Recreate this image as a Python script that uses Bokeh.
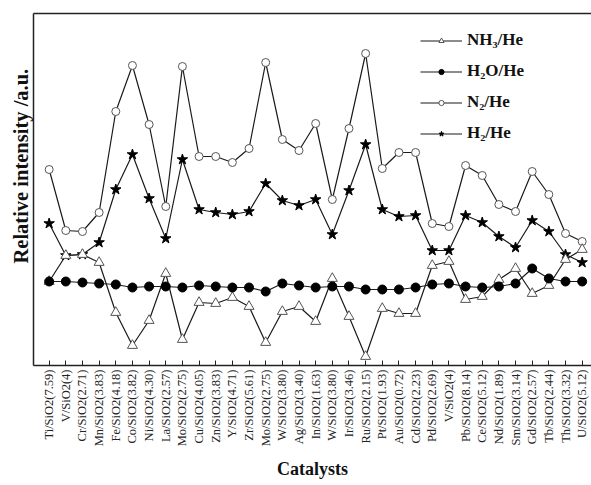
import math
from bokeh.plotting import figure
from bokeh.models import (Range1d, FixedTicker, LinearAxis, Legend, LegendItem, Title)
from bokeh.embed import file_html
from bokeh.resources import INLINE

catalysts = ["Ti/SiO2(7.59)", "V/SiO2(4)", "Cr/SiO2(2.71)", "Mn/SiO2(3.83)", "Fe/SiO2(4.18)",
             "Co/SiO2(3.82)", "Ni/SiO2(4.30)", "La/SiO2(2.57)", "Mo/SiO2(2.75)", "Cu/SiO2(4.05)",
             "Zn/SiO2(3.83)", "Y/SiO2(4.71)", "Zr/SiO2(5.61)", "Mo/SiO2(2.75)", "W/SiO2(3.80)",
             "Ag/SiO2(3.40)", "In/SiO2(1.63)", "W/SiO2(3.80)", "Ir/SiO2(3.46)", "Ru/SiO2(2.15)",
             "Pt/SiO2(1.93)", "Au/SiO2(0.72)", "Cd/SiO2(2.23)", "Pd/SiO2(2.69)", "V/SiO2(4)",
             "Pb/SiO2(8.14)", "Ce/SiO2(5.12)", "Nd/SiO2(1.89)", "Sm/SiO2(3.14)", "Gd/SiO2(2.57)",
             "Tb/SiO2(2.44)", "Th/SiO2(3.32)", "U/SiO2(5.12)"]

nh3_he = [8.4, 11.0, 11.1, 10.3, 5.3, 2.0, 4.5, 9.2, 2.6, 6.3, 6.2, 6.8, 5.9, 2.3, 5.4, 5.9,
          4.4, 8.7, 4.9, 0.9, 5.7, 5.2, 5.2, 10.0, 10.4, 6.6, 6.9, 8.6, 9.7, 7.2, 8.0, 10.6, 11.6]
h2o_he = [8.4, 8.4, 8.3, 8.2, 8.1, 7.8, 7.9, 7.9, 7.8, 8.0, 7.9, 7.8, 7.8, 7.4, 8.2, 8.0,
          7.8, 7.9, 7.9, 7.6, 7.6, 7.6, 7.8, 8.1, 8.2, 7.9, 7.8, 7.9, 8.2, 9.7, 8.7, 8.4, 8.4]
n2_he = [19.6, 13.5, 13.4, 15.3, 25.4, 30.0, 24.1, 15.9, 29.9, 20.9, 20.9, 20.3, 21.7, 30.3, 22.6, 21.5,
         24.2, 16.6, 23.7, 31.2, 19.7, 21.3, 21.3, 14.2, 13.9, 20.0, 19.0, 16.1, 15.4, 19.4, 17.1, 13.2, 12.4]
h2_he = [14.2, 11.0, 11.1, 12.3, 17.6, 21.1, 16.7, 12.7, 20.6, 15.6, 15.3, 15.1, 15.4, 18.2, 16.5, 16.0,
         16.6, 13.1, 17.5, 22.1, 15.6, 14.9, 15.0, 11.5, 11.5, 15.0, 14.3, 12.9, 11.8, 14.5, 13.4, 11.1, 10.3]

x = list(range(len(catalysts)))

SERIF = "Liberation Serif"
LINE = "#1a1a1a"
OPEN = "#555555"

p = figure(width=591, height=485, output_backend="svg", toolbar_location=None,
           x_range=Range1d(-0.94, 32.56), y_range=Range1d(0, 35.2),
           min_border_left=33, min_border_right=0, min_border_top=13, min_border_bottom=120,
           x_axis_location=None, y_axis_location=None)
p.outline_line_color = None
p.xgrid.visible = False
p.ygrid.visible = False
p.background_fill_color = "white"
p.border_fill_color = "white"

# axes
xa = LinearAxis(ticker=FixedTicker(ticks=x))
xa.major_label_overrides = {i: c for i, c in enumerate(catalysts)}
xa.major_label_orientation = math.pi / 2
xa.major_label_text_font = SERIF
xa.major_label_text_font_size = "12.5px"
xa.major_label_text_color = "#222222"
xa.major_label_standoff = 4
xa.major_tick_in = 5
xa.major_tick_out = 0
xa.minor_tick_line_color = None
xa.major_tick_line_color = "#222222"
xa.axis_line_color = "#222222"
xa.axis_line_width = 1.5
xa.axis_label = "Catalysts"
xa.axis_label_text_font = SERIF
xa.axis_label_text_font_style = "bold"
xa.axis_label_text_font_size = "18px"
xa.axis_label_text_color = "#111111"
xa.axis_label_standoff = 10
p.add_layout(xa, "below")

ya = LinearAxis(ticker=FixedTicker(ticks=[]))
ya.axis_line_color = "#222222"
ya.axis_line_width = 1.5
ya.minor_tick_line_color = None
ya.major_tick_line_color = None
p.add_layout(ya, "left")

ta = LinearAxis(ticker=FixedTicker(ticks=[]))
ta.axis_line_color = "#222222"
ta.axis_line_width = 1.5
ta.minor_tick_line_color = None
ta.major_tick_line_color = None
p.add_layout(ta, "above")

ytitle = Title(text="Relative intensity /a.u.", align="left", offset=102, standoff=3,
               text_font=SERIF, text_font_style="bold", text_font_size="20.5px", text_color="#111111")
p.add_layout(ytitle, "left")

# series
l1 = p.line(x, n2_he, line_color=LINE, line_width=1.2)
s1 = p.scatter(x, n2_he, marker="circle", size=8, fill_color="white", line_color=OPEN, line_width=1)
l2 = p.line(x, h2_he, line_color=LINE, line_width=1.2)
s2 = p.scatter(x, h2_he, marker="star", size=11, fill_color="black", line_color="black")
l3 = p.line(x, nh3_he, line_color=LINE, line_width=1.2)
s3 = p.scatter(x, nh3_he, marker="triangle", size=10, fill_color="white", line_color=OPEN, line_width=1)
l4 = p.line(x, h2o_he, line_color=LINE, line_width=1.2)
s4 = p.scatter(x, h2o_he, marker="circle", size=9, fill_color="black", line_color="black")

legend = Legend(items=[
    LegendItem(label="NH\u2083/He", renderers=[l3, s3]),
    LegendItem(label="H\u2082O/He", renderers=[l4, s4]),
    LegendItem(label="N\u2082/He", renderers=[l1, s1]),
    LegendItem(label="H\u2082/He", renderers=[l2, s2]),
], location=(387, 222))
legend.label_text_font = SERIF
legend.label_text_font_style = "bold"
legend.label_text_font_size = "17px"
legend.label_text_color = "#111111"
legend.glyph_width = 42
legend.glyph_height = 13
legend.label_height = 20
legend.spacing = 11
legend.padding = 0
legend.margin = 0
legend.label_standoff = 5
legend.border_line_color = None
legend.background_fill_alpha = 0
p.add_layout(legend, "center")

open("out.html", "w").write(file_html(p, INLINE))
